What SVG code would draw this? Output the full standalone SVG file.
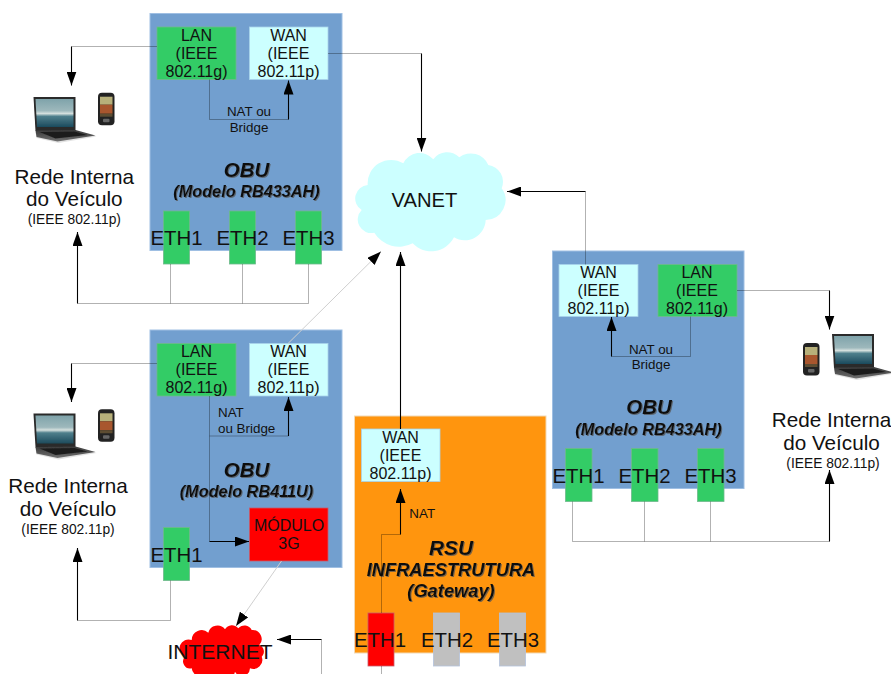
<svg xmlns="http://www.w3.org/2000/svg" width="891" height="674" viewBox="0 0 891 674">
<style>
text{font-family:"Liberation Sans",Arial,sans-serif;fill:#111;text-anchor:middle}
.obu{fill:#729fcf;stroke:#9fbfe3;stroke-width:1}
.rsu{fill:#ff950e;stroke:#f2d9b5;stroke-width:1}
.grn{fill:#33cc66;stroke:#6fb98c;stroke-width:.8}
.cyn{fill:#ccffff;stroke:#a9d3ea;stroke-width:.8}
.red{fill:#ff0000;stroke:#c75a6a;stroke-width:.8}
.gry{fill:#c0c0c0;stroke:#b3c3dc;stroke-width:.8}
.box{font-size:16px}
.eth{font-size:20.400px}
.big{font-size:20.700px}
.sm{font-size:13.800px}
.nat{font-size:13.400px}
.ti{font-weight:bold;font-style:italic;filter:url(#sh)}
.t1{font-size:20.500px}
.t2{font-size:16.300px}
.g{fill:none;stroke:#000;stroke-opacity:.3;stroke-width:1}
.k{fill:none;stroke:#000;stroke-width:1.100}
.d{fill:none;stroke:#cfcfcf;stroke-width:1}
.a{marker-end:url(#ah)}
</style>
<defs>
<marker id="ah" markerUnits="userSpaceOnUse" markerWidth="14" markerHeight="10" refX="14" refY="5" orient="auto"><path d="M0 0L14 5L0 10Z" fill="#000"/></marker>
<filter id="sh" x="-5%" y="-10%" width="110%" height="125%"><feDropShadow dx="1" dy="1" stdDeviation=".3" flood-color="#555" flood-opacity=".75"/></filter>
<filter id="bl" x="-10%" y="-10%" width="120%" height="120%"><feGaussianBlur stdDeviation=".45"/></filter>
<linearGradient id="scr" x1="0" y1="0" x2="0" y2="1"><stop offset="0" stop-color="#7fa3aa"/><stop offset=".42" stop-color="#9db8bc"/><stop offset=".52" stop-color="#d5e0de"/><stop offset=".62" stop-color="#4f7f8c"/><stop offset="1" stop-color="#1c4a5c"/></linearGradient>
<linearGradient id="bas" x1="0" y1="0" x2="0" y2="1"><stop offset="0" stop-color="#3a3a3a"/><stop offset="1" stop-color="#6f6f6f"/></linearGradient>
<g id="laptop" filter="url(#bl)">
<path d="M2 35L42 34L63 39.500L25 46L3 41Z" fill="#cfcfcf" opacity=".6"/>
<path d="M0 0H42V34H2Z" fill="#2a2a2a"/>
<path d="M2 2H40V30H3.500Z" fill="url(#scr)"/>
<path d="M2 33.500L42 33L62 38.500L24 44.500L3 40Z" fill="url(#bas)"/>
<path d="M6 35L41 34.500L54 38L22 41.500Z" fill="#1e1e1e"/>
</g>
<g id="phone" filter="url(#bl)">
<rect x="0" y="0" width="16.500" height="32.500" rx="4" fill="#222"/>
<rect x="2" y="4" width="12.500" height="8" fill="#b7b07a"/>
<rect x="2" y="12" width="12.500" height="9" fill="#a8562e"/>
<rect x="2" y="21" width="12.500" height="3" fill="#5d4d33"/>
<rect x="5" y="26" width="6.500" height="3.500" rx="1" fill="#666"/>
</g>
</defs>

<g id="obu1">
<rect class="obu" x="150" y="13.500" width="192" height="237"/>
<text class="ti t1" x="246.500" y="176.500">OBU</text>
<text class="ti t2" x="246.500" y="197">(Modelo RB433AH)</text>
</g>
<g id="obu1-lan"><rect class="grn" x="157" y="27" width="79" height="52.500"/><text class="box"><tspan x="196.500" y="40.500">LAN</tspan><tspan x="196.500" y="58.500">(IEEE</tspan><tspan x="196.500" y="76.500">802.11g)</tspan></text></g>
<g id="obu1-wan"><rect class="cyn" x="249.500" y="27" width="78.500" height="52.500"/><text class="box"><tspan x="288.500" y="40.500">WAN</tspan><tspan x="288.500" y="58.500">(IEEE</tspan><tspan x="288.500" y="76.500">802.11p)</tspan></text></g>
<g id="obu1-eth1"><rect class="grn" x="163.500" y="211" width="26" height="53"/><text class="eth" x="176.500" y="245">ETH1</text></g>
<g id="obu1-eth2"><rect class="grn" x="229.500" y="211" width="26" height="53"/><text class="eth" x="242.500" y="245">ETH2</text></g>
<g id="obu1-eth3"><rect class="grn" x="295.500" y="211" width="26" height="53"/><text class="eth" x="308.500" y="245">ETH3</text></g>
<g id="obu1-nat"><text class="nat"><tspan x="249" y="116">NAT ou</tspan><tspan x="249" y="132">Bridge</tspan></text></g>

<g id="obu2">
<rect class="obu" x="150" y="330" width="192" height="237.500"/>
<text class="ti t1" x="246.500" y="476.500">OBU</text>
<text class="ti t2" x="246.500" y="496.500">(Modelo RB411U)</text>
</g>
<g id="obu2-lan"><rect class="grn" x="157" y="343.500" width="79" height="52.500"/><text class="box"><tspan x="196.500" y="357">LAN</tspan><tspan x="196.500" y="375">(IEEE</tspan><tspan x="196.500" y="393">802.11g)</tspan></text></g>
<g id="obu2-wan"><rect class="cyn" x="249.500" y="343.500" width="78.500" height="52.500"/><text class="box"><tspan x="288.500" y="357">WAN</tspan><tspan x="288.500" y="375">(IEEE</tspan><tspan x="288.500" y="393">802.11p)</tspan></text></g>
<g id="obu2-3g"><rect class="red" x="249.500" y="508" width="78.500" height="53"/><text class="box"><tspan x="289" y="531">MÓDULO</tspan><tspan x="289" y="549">3G</tspan></text></g>
<g id="obu2-eth1"><rect class="grn" x="163.500" y="527.500" width="26" height="53"/><text class="eth" x="176.500" y="561.500">ETH1</text></g>
<g id="obu2-nat"><text class="nat" style="text-anchor:start"><tspan x="218" y="417">NAT</tspan><tspan x="218" y="433">ou Bridge</tspan></text></g>

<g id="rsu">
<rect class="rsu" x="354.500" y="416" width="191.500" height="237"/>
<text class="ti" style="font-size:20.800px" x="451" y="555">RSU</text>
<text class="ti" style="font-size:18.300px" x="451" y="576">INFRAESTRUTURA</text>
<text class="ti" style="font-size:18.300px" x="451" y="597">(Gateway)</text>
</g>
<g id="rsu-wan"><rect class="cyn" x="361.500" y="429" width="78.500" height="52.500"/><text class="box"><tspan x="400.500" y="442.500">WAN</tspan><tspan x="400.500" y="460.500">(IEEE</tspan><tspan x="400.500" y="478.500">802.11p)</tspan></text></g>
<g id="rsu-eth1"><rect class="red" x="368" y="613" width="26" height="53"/><text class="eth" x="380" y="647">ETH1</text></g>
<g id="rsu-eth2"><rect class="gry" x="433.500" y="613" width="26" height="53"/><text class="eth" x="447" y="647">ETH2</text></g>
<g id="rsu-eth3"><rect class="gry" x="499.500" y="613" width="26" height="53"/><text class="eth" x="513" y="647">ETH3</text></g>
<g id="rsu-nat"><text class="nat" style="text-anchor:start" x="409.300" y="517.500">NAT</text></g>

<g id="obu3">
<rect class="obu" x="552.500" y="251" width="191.500" height="237.500"/>
<text class="ti t1" x="649" y="414">OBU</text>
<text class="ti t2" x="648.500" y="434.500">(Modelo RB433AH)</text>
</g>
<g id="obu3-wan"><rect class="cyn" x="559" y="264.500" width="79" height="52"/><text class="box"><tspan x="598.500" y="278">WAN</tspan><tspan x="598.500" y="296">(IEEE</tspan><tspan x="598.500" y="314">802.11p)</tspan></text></g>
<g id="obu3-lan"><rect class="grn" x="658" y="264.500" width="79" height="52"/><text class="box"><tspan x="697" y="278">LAN</tspan><tspan x="697" y="296">(IEEE</tspan><tspan x="697" y="314">802.11g)</tspan></text></g>
<g id="obu3-eth1"><rect class="grn" x="565.500" y="448.500" width="26.500" height="53"/><text class="eth" x="578.500" y="482.500">ETH1</text></g>
<g id="obu3-eth2"><rect class="grn" x="631.500" y="448.500" width="26.500" height="53"/><text class="eth" x="644.500" y="482.500">ETH2</text></g>
<g id="obu3-eth3"><rect class="grn" x="697.500" y="448.500" width="26.500" height="53"/><text class="eth" x="710.500" y="482.500">ETH3</text></g>
<g id="obu3-nat"><text class="nat"><tspan x="651" y="354">NAT ou</tspan><tspan x="651" y="369">Bridge</tspan></text></g>

<g id="vanet">
<path fill="#ccffff" d="M367.700 185A23.500 23.500 0 0 1 403.300 163.300A18 18 0 0 1 433.300 159.300A17 17 0 0 1 459.300 157.300A19 19 0 0 1 488.300 165A17 17 0 0 1 501.700 188.300A20 20 0 0 1 485.700 220A21 21 0 0 1 454 237.300A25.500 25.500 0 0 1 412.700 243.300A29 29 0 0 1 374.300 232.700A13.500 13.500 0 0 1 361.700 210A13.500 13.500 0 0 1 367.700 185Z"/>
<text style="font-size:20.200px" x="424.500" y="207">VANET</text>
</g>
<g id="internet">
<path fill="#ff0000" d="M191.700 640A10 10 0 0 1 208.300 632.700A9.500 9.500 0 0 1 225 629.300A8 8 0 0 1 238.300 628.300A8 8 0 0 1 251.700 630A9 9 0 0 1 259.300 645A7 7 0 0 1 261.700 656.700A9 9 0 0 1 250 668.300A8 8 0 0 1 235 671.700A15 15 0 0 1 206.700 674A9 9 0 0 1 191.700 668.300A7 7 0 0 1 185 656.700A9 9 0 0 1 191.700 640Z"/>
<text style="font-size:21px" x="220" y="659">INTERNET</text>
</g>

<g id="net1">
<use href="#laptop" x="33.500" y="97"/><use href="#phone" x="98" y="92.700"/>
<text class="big"><tspan x="74.300" y="183.500">Rede Interna</tspan><tspan x="74.300" y="206">do Veículo</tspan></text>
<text class="sm" x="74.300" y="223.500">(IEEE 802.11p)</text>
</g>
<g id="net2">
<use href="#laptop" x="33.500" y="413.500"/><use href="#phone" x="98" y="409.300"/>
<text class="big"><tspan x="68" y="493">Rede Interna</tspan><tspan x="68" y="516">do Veículo</tspan></text>
<text class="sm" x="68" y="533.500">(IEEE 802.11p)</text>
</g>
<g id="net3">
<use href="#laptop" x="832" y="334"/><use href="#phone" x="803" y="343"/>
<text class="big"><tspan x="831.500" y="426.500">Rede Interna</tspan><tspan x="831.500" y="450">do Veículo</tspan></text>
<text class="sm" x="833" y="467.500">(IEEE 802.11p)</text>
</g>

<g id="connectors">
<path class="g" d="M157 46.500H71.500"/><path class="k a" d="M71.500 46.500V85.500"/>
<path class="g" d="M209.500 79.500V119.500H288.500"/><path class="k a" d="M288.500 119.500V80.500"/>
<path class="g" d="M328 53.500H421.500"/><path class="k a" d="M421.500 53.500V151.500"/>
<path class="g" d="M170.500 264V303.500M242.500 264V303.500M308.500 264V303.500H77.500"/><path class="k a" d="M77.500 303.500V232"/>

<path class="g" d="M157 363.500H71.500"/><path class="k a" d="M71.500 363.500V402"/>
<path class="g" d="M209.500 396V541.500"/><path class="g" d="M209.500 436H288.500"/><path class="k a" d="M288.500 436V397"/><path class="k a" d="M209.500 541.500H249"/>
<path class="g" d="M170.500 580.500V620.500H77.500"/><path class="k a" d="M77.500 620.500V548"/>
<path class="d a" d="M288 343.500L381 251.500"/>
<path class="d a" d="M281.500 561L236 626"/>
<path class="g" d="M321.500 674V639.500"/><path class="k a" d="M321.500 639.500H277"/>

<path class="k a" d="M400.500 429V252"/>
<path class="g" d="M381.500 674V666M381.500 613V534.500H400.500"/><path class="k a" d="M400.500 534.500V489"/>

<path class="g" d="M585.500 264.500V191.500"/><path class="k a" d="M585.500 191.500H507"/>
<path class="g" d="M690.500 316.500V356.500H611.500"/><path class="k a" d="M611.500 356.500V317"/>
<path class="g" d="M737 290.500H829.500"/><path class="k a" d="M829.500 290.500V329.500"/>
<path class="g" d="M572.500 501.500V541.500H829.500M644.500 501.500V541.500M710.500 501.500V541.500"/><path class="k a" d="M829.500 541.500V470"/>
</g>
</svg>
